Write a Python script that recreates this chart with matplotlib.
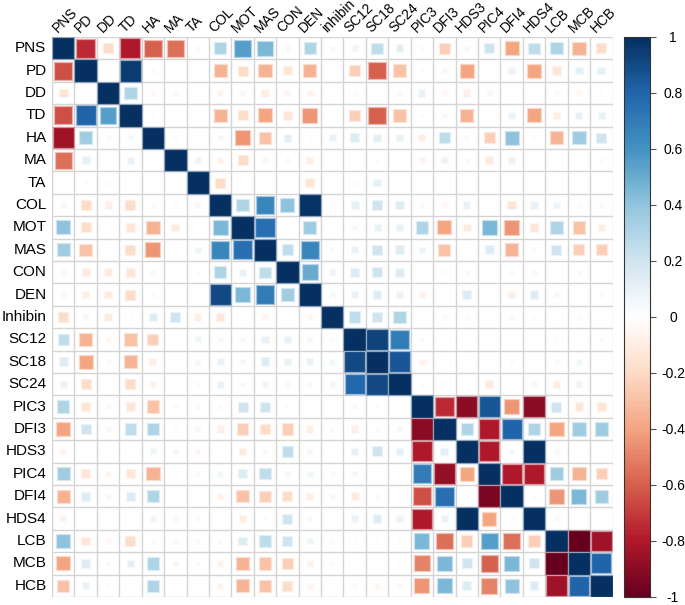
import numpy as np
import matplotlib
matplotlib.use("Agg")
import matplotlib.pyplot as plt
from matplotlib.colors import LinearSegmentedColormap, Normalize, to_rgb
from matplotlib.patches import Rectangle
from matplotlib.collections import PatchCollection
import matplotlib.cm as cm

plt.rcParams['font.family'] = ['Liberation Sans', 'DejaVu Sans']

row_labels = ['PNS', 'PD', 'DD', 'TD', 'HA', 'MA', 'TA', 'COL', 'MOT', 'MAS', 'CON', 'DEN',
              'Inhibin', 'SC12', 'SC18', 'SC24', 'PIC3', 'DFI3', 'HDS3', 'PIC4', 'DFI4',
              'HDS4', 'LCB', 'MCB', 'HCB']
col_labels = ['PNS', 'PD', 'DD', 'TD', 'HA', 'MA', 'TA', 'COL', 'MOT', 'MAS', 'CON', 'DEN',
              'inhibin', 'SC12', 'SC18', 'SC24', 'PIC3', 'DFI3', 'HDS3', 'PIC4', 'DFI4',
              'HDS4', 'LCB', 'MCB', 'HCB']

# correlation values, one row per variable
corr = [
    [1, -0.75, -0.2, -0.8, -0.6, -0.55, -0.05, 0.3, 0.55, 0.45, 0.05, 0.3, -0.05, 0.07, 0.25, 0.12, 0.03, -0.25, 0.05, 0.2, -0.4, 0.25, 0.3, -0.35, -0.2],
    [-0.65, 1, 0, 0.95, 0.03, 0.01, -0.02, -0.35, -0.2, -0.35, -0.15, -0.35, 0, -0.25, -0.6, -0.3, 0.02, 0.05, -0.4, -0.02, 0.08, -0.4, -0.15, 0.12, 0.12],
    [-0.15, 0, 1, 0.3, -0.05, -0.05, -0.01, -0.07, 0.05, -0.1, -0.07, -0.08, -0.02, -0.03, -0.01, -0.05, 0.1, -0.05, -0.1, 0.05, 0, -0.02, 0.04, -0.05, 0.02],
    [-0.65, 0.8, 0.55, 1, 0.02, -0.02, 0.01, -0.35, -0.2, -0.4, -0.15, -0.45, 0, -0.25, -0.6, -0.3, 0.02, 0.05, -0.35, -0.01, 0.08, -0.4, -0.1, 0.1, 0.1],
    [-0.85, 0.35, -0.05, 0.05, 1, 0.03, 0, 0.05, -0.45, -0.3, 0.12, 0.02, 0.1, 0.15, 0.12, 0.1, -0.1, 0.25, -0.05, -0.25, 0.4, -0.03, -0.35, 0.35, 0.2],
    [-0.55, 0.12, -0.02, 0.1, -0.01, 1, 0.08, -0.08, -0.2, -0.06, -0.05, -0.1, 0.01, 0.01, -0.04, 0.01, -0.07, 0.08, 0.04, -0.12, 0.1, -0.02, 0.01, 0, -0.04],
    [-0.02, -0.03, -0.03, -0.01, 0, -0.02, 1, -0.2, 0.01, 0, 0, -0.15, 0.01, -0.03, 0.12, 0.02, 0, -0.01, 0, 0, 0.01, 0.01, 0, 0, 0],
    [0.05, -0.2, -0.1, -0.2, 0.04, -0.03, 0.05, 1, 0.3, 0.65, 0.4, 0.98, 0.02, 0.12, 0.2, 0.15, -0.05, -0.05, 0.1, 0.01, -0.15, 0.1, 0.08, -0.04, -0.05],
    [0.4, -0.2, 0.01, -0.15, -0.35, -0.12, 0.01, 0.45, 1, 0.75, 0.02, 0.35, 0, 0.05, 0.1, 0.1, 0.3, -0.4, -0.12, 0.45, -0.45, -0.15, 0.3, -0.3, -0.1],
    [0.35, -0.3, -0.02, -0.2, -0.45, 0.02, 0.07, 0.65, 0.75, 1, 0.25, 0.65, 0.04, 0.1, 0.2, 0.15, 0.08, -0.3, 0.01, 0.15, -0.35, 0.03, 0.2, -0.25, -0.25],
    [0.05, -0.12, -0.12, -0.15, 0.05, -0.01, -0.03, 0.3, 0.1, 0.25, 1, 0.5, 0.08, 0.15, 0.2, 0.15, 0.01, -0.03, 0.04, 0, -0.05, 0.05, -0.02, 0.04, 0],
    [0.05, -0.1, -0.12, -0.2, 0.03, -0.03, 0, 0.9, 0.45, 0.7, 0.35, 1, 0.05, 0.1, 0.15, 0.1, -0.08, -0.02, 0.15, 0.01, -0.1, 0.15, 0.05, -0.02, -0.05],
    [-0.2, 0.06, -0.12, -0.03, 0.15, 0.2, -0.1, -0.15, -0.02, -0.07, 0.01, -0.06, 1, 0.25, 0.2, 0.3, 0.01, 0.04, -0.04, 0.01, 0.04, -0.03, -0.02, 0.03, 0.01],
    [0.25, -0.35, -0.06, -0.3, -0.25, 0, 0.07, 0.05, 0.05, 0.1, 0.1, 0.05, 0.03, 1, 0.92, 0.7, -0.05, 0, 0, 0, 0.01, 0, -0.03, 0.01, -0.04],
    [0.15, -0.4, -0.05, -0.35, -0.1, 0, 0.06, 0.1, 0.05, 0.15, 0.1, 0.1, 0.07, 0.9, 1, 0.85, -0.08, 0, 0, 0.01, 0.03, 0, -0.05, 0.07, 0],
    [0.1, -0.2, -0.01, -0.2, -0.08, 0, 0.03, 0.1, 0.04, 0.07, 0.05, 0.05, 0.06, 0.78, 0.9, 1, 0.02, -0.03, -0.02, -0.12, 0.01, -0.06, -0.1, 0.08, 0],
    [0.3, -0.15, -0.05, -0.15, -0.3, -0.04, 0.04, 0.03, 0.2, 0.2, 0.03, 0.01, -0.02, -0.05, -0.03, -0.03, 1, -0.75, -0.9, 0.85, -0.45, -0.9, 0.2, -0.15, -0.15],
    [-0.4, 0.2, 0.05, 0.25, 0.3, 0.02, 0.05, -0.1, -0.25, -0.2, -0.25, -0.1, 0.04, -0.1, -0.04, 0.06, -0.9, 1, 0.3, -0.8, 0.8, 0.3, -0.4, 0.35, 0.35],
    [-0.07, -0.02, 0, 0.01, 0.07, 0.06, -0.06, 0.02, -0.12, -0.05, 0.25, 0.05, 0.01, 0.1, 0.2, 0.12, -0.8, 0.12, 1, -0.8, 0.05, 1.0, -0.05, 0.01, 0.01],
    [0.35, -0.15, -0.06, -0.15, -0.35, -0.01, 0.04, 0.07, 0.15, 0.25, 0.05, 0.06, -0.05, 0.05, 0.01, 0.01, 0.7, -0.88, -0.4, 1, -0.8, -0.8, 0.35, -0.35, -0.25],
    [-0.35, 0.15, 0.05, 0.15, 0.3, 0, -0.02, -0.08, -0.3, -0.25, -0.2, -0.1, 0.05, -0.12, -0.05, -0.03, -0.65, 0.75, 0.03, -0.95, 1, 0.02, -0.45, 0.45, 0.35],
    [-0.08, -0.02, -0.01, -0.01, 0.07, 0.05, -0.05, 0.01, -0.1, -0.04, 0.2, 0.05, 0.01, 0.08, 0.15, 0.08, -0.8, 0.1, 1.0, -0.4, 0.03, 1, -0.05, 0, -0.02],
    [0.4, -0.15, -0.05, -0.2, 0.03, -0.05, 0.04, 0.04, 0.15, 0.25, 0.2, 0.07, -0.04, 0.02, 0.02, 0.03, 0.45, -0.55, -0.25, 0.55, -0.55, -0.25, 1, -1.0, -0.85],
    [-0.4, 0.15, 0.04, 0.12, 0.3, 0.04, -0.04, -0.08, -0.35, -0.3, -0.25, -0.08, 0.03, 0, -0.02, -0.03, -0.5, 0.45, 0.2, -0.6, 0.45, 0.2, -1.0, 1, 0.8],
    [-0.3, 0.1, 0.02, 0.01, 0.3, -0.02, 0, -0.08, -0.35, -0.3, -0.2, -0.07, 0, -0.04, -0.06, -0.05, -0.45, 0.45, 0.15, -0.5, 0.4, 0.15, -0.85, 0.8, 1],
]
cbar_ticks = [-1, -0.8, -0.6, -0.4, -0.2, 0, 0.2, 0.4, 0.6, 0.8, 1]

corr = np.array(corr, dtype=float)
n = len(row_labels)

rdbu = ["#67001F", "#B2182B", "#D6604D", "#F4A582", "#FDDBC7", "#FFFFFF",
        "#D1E5F0", "#92C5DE", "#4393C3", "#2166AC", "#053061"]
cmap = LinearSegmentedColormap.from_list("corr", rdbu, N=200)
norm = Normalize(-1, 1)

W, H = 685, 605
fig = plt.figure(figsize=(W / 100, H / 100), dpi=100)
ax = fig.add_axes([52 / W, 8 / H, 560.5 / W, 560 / H])
ax.set_xlim(0, n)
ax.set_ylim(n, 0)
ax.axis('off')

# grid
for k in range(n + 1):
    ax.axhline(k, color='#d4d4d4', lw=1, zorder=1)
    ax.axvline(k, color='#d4d4d4', lw=1, zorder=1)

patches, faces, edges = [], [], []
for i in range(n):
    for j in range(n):
        v = corr[i, j]
        s = np.sqrt(abs(v))
        if s < 0.02:
            continue
        patches.append(Rectangle((j + 0.5 - s / 2, i + 0.5 - s / 2), s, s))
        c = np.array(to_rgb(cmap(norm(v))))
        faces.append(c)
        edges.append(c * 0.45 + 0.55)
pc = PatchCollection(patches, facecolors=faces, edgecolors=edges, linewidths=0.9, zorder=2)
ax.add_collection(pc)

for i, lab in enumerate(row_labels):
    ax.text(-0.25, i + 0.5, lab, ha='right', va='center', fontsize=11, color='black')
for j, lab in enumerate(col_labels):
    ax.text(j + 0.35, -0.1, lab, ha='left', va='bottom', rotation=45,
            rotation_mode='anchor', fontsize=10, color='black')

# colour legend
cax = fig.add_axes([624 / W, 8 / H, 26 / W, 560 / H])
sm = cm.ScalarMappable(norm=norm, cmap=cmap)
cb = fig.colorbar(sm, cax=cax, ticks=cbar_ticks)
cb.outline.set_linewidth(0.8)
cb.outline.set_edgecolor('#333333')
cb.ax.tick_params(length=4, width=0.8, color='#555555', pad=12.5, labelsize=10)
cb.ax.set_yticklabels(['%g' % t for t in cbar_ticks])
for t in cb.ax.get_yticklabels():
    t.set_horizontalalignment('center')

fig.savefig('out.png', dpi=100)
